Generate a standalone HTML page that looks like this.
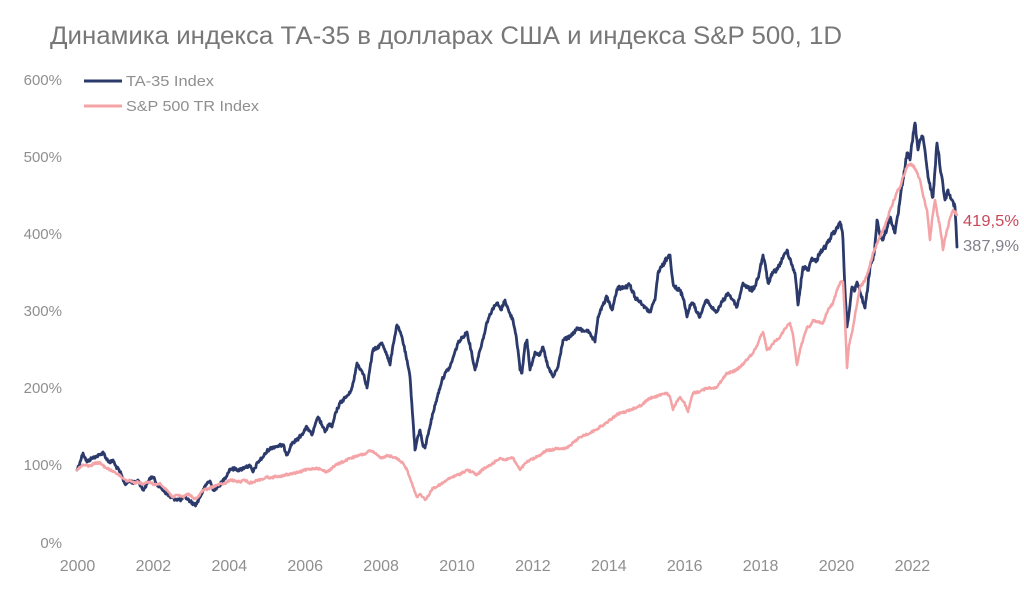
<!DOCTYPE html>
<html>
<head>
<meta charset="utf-8">
<style>
html,body{margin:0;padding:0;background:#fff;}
svg{display:block;}
text{font-family:"Liberation Sans","DejaVu Sans",sans-serif;}
</style>
</head>
<body>
<svg width="1024" height="594" viewBox="0 0 1024 594" xmlns="http://www.w3.org/2000/svg">
<rect width="1024" height="594" fill="#fff"/>
<text x="50" y="44" font-size="25" fill="#777777" textLength="792" lengthAdjust="spacingAndGlyphs">Динамика индекса ТА-35 в долларах США и индекса S&amp;P 500, 1D</text>

<g font-size="15" fill="#8f8f8f" text-anchor="end">
<text x="62" y="85">600%</text>
<text x="62" y="162">500%</text>
<text x="62" y="239">400%</text>
<text x="62" y="316">300%</text>
<text x="62" y="393">200%</text>
<text x="62" y="470">100%</text>
<text x="62" y="548">0%</text>
</g>
<g font-size="16" fill="#8f8f8f" text-anchor="middle">
<text x="77.5" y="571">2000</text>
<text x="153.4" y="571">2002</text>
<text x="229.3" y="571">2004</text>
<text x="305.2" y="571">2006</text>
<text x="381.1" y="571">2008</text>
<text x="457" y="571">2010</text>
<text x="532.9" y="571">2012</text>
<text x="608.8" y="571">2014</text>
<text x="684.7" y="571">2016</text>
<text x="760.6" y="571">2018</text>
<text x="836.5" y="571">2020</text>
<text x="912.4" y="571">2022</text>
</g>

<line x1="84" y1="81" x2="122" y2="81" stroke="#2b3a6b" stroke-width="3"/>
<text x="126" y="86" font-size="15" fill="#8f8f8f" textLength="88" lengthAdjust="spacingAndGlyphs">TA-35 Index</text>
<line x1="84" y1="106" x2="122" y2="106" stroke="#f4a3a6" stroke-width="3"/>
<text x="126" y="111" font-size="15" fill="#8f8f8f" textLength="133" lengthAdjust="spacingAndGlyphs">S&amp;P 500 TR Index</text>

<polyline id="ta" fill="none" stroke="#2b3a6b" stroke-width="2.8" stroke-linejoin="round" stroke-linecap="round" points="77,470 80,462 83,453 87,462 92,458 97,456 100,455 103,452 106,458 110,463 113,460 115,465 120,472 125,484 130,481 135,483 138,480 143,490 147,484 150,478 153,477 157,484 160,487 165,492 170,497 175,499 180,500 185,497 190,501 195,505 197,503 200,497 205,487 208,482 210,481 213,490 218,487 222,482 225,478 230,469 235,469 240,470 245,467 250,466 253,472 258,462 263,457 268,450 273,447 278,446 283,445 287,455 292,443 297,440 302,434 307,427 312,435 318,417 322,425 325,432 329,424 332,427 336,412 340,403 345,398 350,393 354,380 357,363 361,370 364,375 367,388 370,368 373,350 377,348 382,343 386,352 390,365 393,345 397,325 402,337 406,356 410,377 413,420 415,450 418,436 420,430 423,446 425,448 429,430 433,413 437,398 442,380 446,372 450,367 454,355 458,343 462,338 467,332 471,350 475,370 478,358 480,350 484,335 487,322 492,310 497,303 501,310 505,300 509,312 513,320 516,335 518,350 520,370 522,373 525,345 527,340 530,370 535,352 540,355 543,347 548,367 553,377 558,367 563,340 570,337 578,328 583,331 587,330 591,336 595,342 598,317 603,305 607,297 612,310 618,287 624,288 630,285 635,297 640,302 643,305 647,310 650,312 655,300 658,273 663,265 667,258 670,255 673,283 677,290 680,290 684,300 687,317 690,305 693,303 697,312 700,317 704,305 707,300 712,308 717,312 722,302 728,293 733,300 737,307 740,295 743,283 748,288 753,290 758,278 763,255 766,270 768,283 773,273 778,268 783,258 787,250 791,262 795,273 798,305 800,290 803,267 808,270 812,258 816,262 820,252 826,246 833,233 838,228 840,222 842,230 843,240 845,290 847,327 850,305 852,287 855,290 857,282 861,295 865,308 868,285 870,267 874,255 877,220 880,235 883,240 887,228 890,217 893,226 895,233 898,215 900,200 903,180 907,153 910,160 912,143 915,123 917,140 918,150 920,140 923,137 926,160 928,177 931,190 933,197 935,170 937,143 939,155 940,167 943,185 945,200 948,190 950,195 952,200 955,207 957,247"/>

<polyline id="sp" fill="none" stroke="#f4a3a6" stroke-width="2.5" stroke-linejoin="round" stroke-linecap="round" points="77,470 83,465 90,466 95,463 100,463 105,467 110,470 115,472 120,476 123,478 127,481 130,480 134,483 138,482 143,484 150,482 155,485 160,483 163,487 167,490 170,494 173,497 178,495 183,497 187,494 190,495 194,499 197,498 200,494 203,490 208,489 212,487 217,485 222,484 226,483 230,480 235,481 240,482 245,480 249,483 253,482 258,480 263,479 267,477 272,478 276,476 280,477 285,475 290,474 295,473 300,472 305,470 310,469 317,468 322,470 327,472 332,468 336,465 340,463 345,461 350,458 355,457 360,455 365,454 369,451 373,452 377,455 380,457 383,458 387,455 392,457 397,458 400,461 403,463 407,470 410,478 413,487 415,492 417,497 420,494 423,497 425,500 428,496 433,488 438,486 443,483 447,480 450,478 455,476 460,474 467,470 472,472 477,475 482,470 487,467 492,464 496,461 500,458 505,460 510,458 513,458 517,465 520,470 524,465 527,462 530,460 535,458 540,455 547,450 552,450 557,448 562,449 567,448 573,443 580,437 585,435 590,433 595,430 600,427 605,424 610,420 615,416 620,413 625,412 630,410 637,407 642,405 647,400 653,397 658,396 662,394 667,393 670,397 673,410 676,403 680,397 684,402 688,412 691,400 693,393 698,392 703,390 707,388 712,388 717,387 722,380 727,373 732,372 736,370 740,367 745,362 749,357 753,353 757,346 760,337 763,332 765,340 767,350 770,348 774,342 778,339 780,337 784,330 787,326 790,323 793,335 795,350 797,365 800,350 803,340 807,327 810,326 813,320 818,322 823,323 828,310 833,303 836,293 838,287 840,283 843,282 845,320 847,368 849,345 852,333 855,315 858,298 860,287 864,282 867,275 870,265 873,253 877,244 880,237 883,230 887,220 890,210 894,200 897,192 900,187 903,177 907,167 910,164 913,165 917,173 920,180 923,195 927,210 929,230 930,240 932,220 935,200 937,212 940,227 942,240 943,250 945,238 948,227 950,218 953,210 955,212 957,215"/>

<text x="963" y="226" font-size="16" fill="#c8485a" textLength="56" lengthAdjust="spacingAndGlyphs">419,5%</text>
<text x="963" y="251" font-size="16" fill="#80808a" textLength="56" lengthAdjust="spacingAndGlyphs">387,9%</text>
</svg>
<script>
(function(){
  var seed = 12345;
  function rnd(){ seed = (seed*1103515245 + 12345) % 2147483648; return seed/2147483648; }
  function roughen(id, amp, step){
    var el = document.getElementById(id);
    if(!el) return;
    var raw = el.getAttribute('points').trim().split(/\s+/).map(function(p){var a=p.split(',');return [parseFloat(a[0]),parseFloat(a[1])];});
    var out = [];
    for(var i=0;i<raw.length-1;i++){
      var a=raw[i], b=raw[i+1];
      var dx=b[0]-a[0];
      var n=Math.max(1,Math.ceil(Math.abs(dx)/step));
      for(var k=0;k<n;k++){
        var t=k/n;
        var x=a[0]+dx*t, y=a[1]+(b[1]-a[1])*t;
        var j=(k===0)?0:(rnd()-0.5)*2*amp*(y<300?1.4:1);
        out.push(x.toFixed(2)+','+(y+j).toFixed(2));
      }
    }
    var l=raw[raw.length-1];
    out.push(l[0]+','+l[1]);
    el.setAttribute('points', out.join(' '));
  }
  roughen('ta', 1.6, 0.6);
  roughen('sp', 1.0, 0.6);
})();
</script>
</body>
</html>
